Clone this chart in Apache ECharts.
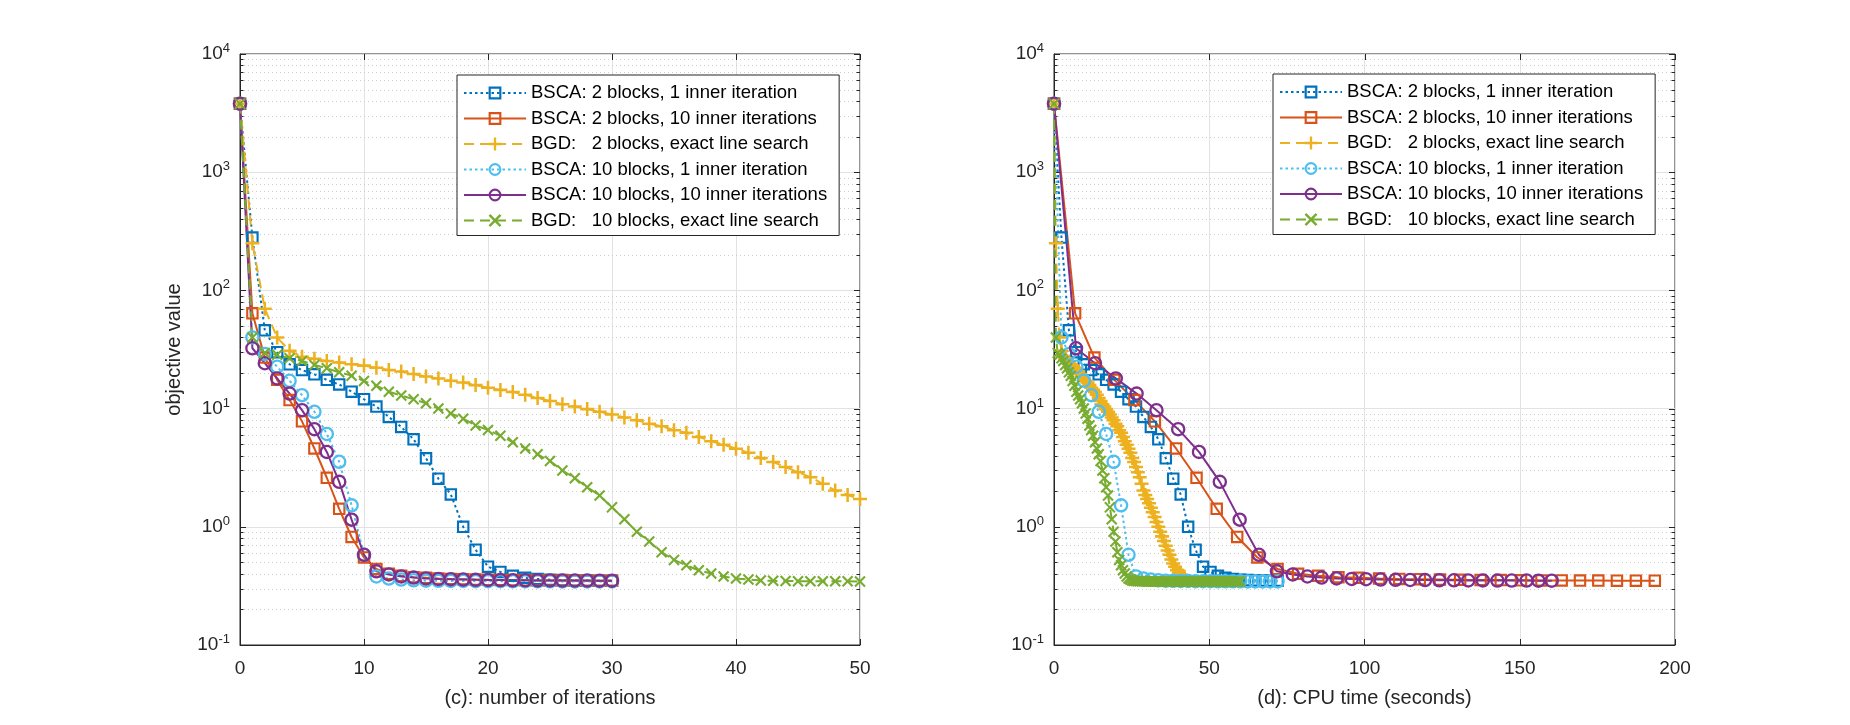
<!DOCTYPE html>
<html>
<head>
<meta charset="utf-8">
<title>BSCA vs BGD: objective value</title>
<script src="https://cdn.jsdelivr.net/npm/echarts@6/dist/echarts.min.js"></script>
<style>
  html, body { margin: 0; padding: 0; background: #fff; }
  #chart { width: 1850px; height: 725px; }
</style>
</head>
<body>
<div id="chart"></div>
<script>
// ---- data ----
const seriesNames = [
  'BSCA: 2 blocks, 1 inner iteration',
  'BSCA: 2 blocks, 10 inner iterations',
  'BGD:   2 blocks, exact line search',
  'BSCA: 10 blocks, 1 inner iteration',
  'BSCA: 10 blocks, 10 inner iterations',
  'BGD:   10 blocks, exact line search'
]

const iterTicks = [0, 10, 20, 30, 40, 50]
const timeTicks = [0, 50, 100, 150, 200]
const decades = [0.1, 1, 10, 100, 1000, 10000]
const minorSteps = [2, 3, 4, 5, 6, 7, 8, 9]

// objective value per iteration (iteration 0 .. end)
const bsca2x1 = [
  3800, 280, 46, 30, 23.7, 21.2, 19.5, 17.5, 16.0, 13.9,
  12.0, 10.4, 8.5, 7.0, 5.5, 3.8, 2.55, 1.88, 1.0, 0.64,
  0.46, 0.415, 0.385, 0.37, 0.362, 0.357, 0.354, 0.352, 0.351, 0.35, 0.35
]
const bsca2x10 = [
  3800, 64, 27, 17.5, 11.8, 7.8, 4.6, 2.6, 1.42, 0.82,
  0.55, 0.44, 0.40, 0.385, 0.375, 0.37, 0.365, 0.362, 0.36, 0.358,
  0.356, 0.355, 0.354, 0.353, 0.352, 0.352, 0.351, 0.351, 0.35, 0.35, 0.35
]
const bgd2 = [
  3800, 250, 70, 40, 30.8, 27.5, 26.4, 25.3, 24.5, 23.7,
  23.1, 22.2, 21.2, 20.6, 19.6, 18.7, 18.0, 17.2, 16.6, 15.8,
  15.0, 14.4, 13.8, 13.1, 12.3, 11.6, 10.9, 10.4, 9.9, 9.4,
  8.9, 8.4, 7.98, 7.46, 7.1, 6.56, 6.26, 5.76, 5.29, 4.95,
  4.58, 4.24, 3.82, 3.53, 3.2, 2.9, 2.63, 2.31, 2.03, 1.86,
  1.72, 1.58, 1.45, 1.33, 1.21, 1.1, 1.0, 0.91, 0.83, 0.76,
  0.69, 0.63, 0.58, 0.53, 0.49, 0.46, 0.43, 0.41, 0.395, 0.385,
  0.38
]
const bsca10x1 = [
  3800, 40, 29, 22.6, 17.2, 13.0, 9.4, 6.1, 3.55, 1.52,
  0.58, 0.38, 0.365, 0.358, 0.353, 0.35, 0.349, 0.348, 0.348, 0.347,
  0.347, 0.347, 0.346, 0.346, 0.346, 0.346, 0.345, 0.345, 0.345, 0.345, 0.345
]
const bsca10x10 = [
  3800, 32.4, 24.2, 18.0, 13.4, 9.7, 6.7, 4.3, 2.4, 1.15,
  0.58, 0.42, 0.395, 0.38, 0.372, 0.366, 0.362, 0.36, 0.358, 0.356,
  0.355, 0.354, 0.353, 0.353, 0.352, 0.352, 0.351, 0.351, 0.351, 0.35, 0.35
]
const bgd10 = [
  3800, 40, 29.5, 28.5, 26.7, 25.3, 23.4, 21.9, 20.3, 19.0,
  17.1, 15.6, 13.9, 12.9, 12.0, 11.1, 10.0, 9.1, 8.2, 7.2,
  6.6, 5.9, 5.2, 4.6, 4.1, 3.6, 3.0, 2.58, 2.16, 1.84,
  1.46, 1.16, 0.91, 0.75, 0.61, 0.525, 0.472, 0.428, 0.402, 0.379,
  0.366, 0.359, 0.352, 0.349, 0.348, 0.347, 0.347, 0.346, 0.346, 0.346,
  0.345, 0.345, 0.345, 0.345, 0.345, 0.345, 0.345, 0.345, 0.345, 0.345,
  0.345, 0.345, 0.345, 0.345, 0.345, 0.345, 0.345, 0.345, 0.345, 0.345,
  0.345, 0.345, 0.345, 0.345, 0.345, 0.345, 0.345, 0.345, 0.345, 0.345,
  0.345, 0.345, 0.345, 0.345, 0.345, 0.345, 0.345, 0.345, 0.345, 0.345,
  0.345, 0.345, 0.345, 0.345, 0.345, 0.345, 0.345, 0.345, 0.345, 0.345,
  0.345
]

// cumulative CPU time (seconds) at each iteration
const cpuOneInner = [
  0, 2.4, 4.8, 7.2, 9.6, 12.0, 14.4, 16.8, 19.2, 21.6,
  24.0, 26.4, 28.8, 31.2, 33.6, 36.0, 38.4, 40.8, 43.2, 45.6,
  48.0, 50.4, 52.8, 55.2, 57.6, 60.0, 62.4, 64.8, 67.2, 69.6, 72.0
]
const cpuBsca2x10 = [
  0, 6.8, 13.0, 19.4, 25.9, 32.5, 39.3, 45.9, 52.4, 59.0,
  65.5, 72.0, 78.6, 85.1, 91.6, 98.2, 104.7, 111.2, 117.8, 124.3,
  130.8, 137.4, 143.9, 150.4, 157.0, 163.5, 169.4, 175.3, 181.3, 187.4, 193.5
]
const cpuBsca10x10 = [
  0, 7.1, 13.2, 19.9, 26.6, 33.0, 40.0, 46.7, 53.4, 59.8,
  66.0, 71.8, 76.9, 81.6, 86.2, 91.0, 95.9, 100.5, 105.2, 110.0,
  114.7, 119.5, 124.1, 128.8, 133.4, 138.1, 142.8, 147.4, 152.2, 156.0, 160.3
]
const cpuBgd = [
  0, 0.6, 1.2, 1.8, 2.4, 3.0, 3.6, 4.2, 4.8, 5.4,
  6.0, 6.6, 7.2, 7.8, 8.4, 9.0, 9.6, 10.2, 10.8, 11.4,
  12.0, 12.6, 13.2, 13.8, 14.4, 15.0, 15.6, 16.2, 16.8, 17.4,
  18.0, 18.6, 19.2, 19.8, 20.4, 21.0, 21.6, 22.2, 22.8, 23.4,
  24.0, 24.6, 25.2, 25.8, 26.4, 27.0, 27.6, 28.2, 28.8, 29.4,
  30.0, 30.6, 31.2, 31.8, 32.4, 33.0, 33.6, 34.2, 34.8, 35.4,
  36.0, 36.6, 37.2, 37.8, 38.4, 39.0, 39.6, 40.2, 40.8, 41.4,
  42.0, 42.6, 43.2, 43.8, 44.4, 45.0, 45.6, 46.2, 46.8, 47.4,
  48.0, 48.6, 49.2, 49.8, 50.4, 51.0, 51.6, 52.2, 52.8, 53.4,
  54.0, 54.6, 55.2, 55.8, 56.4, 57.0, 57.6, 58.2, 58.8, 59.4,
  60.0
]

// ---- styles ----
const FONT = "'Liberation Sans', Arial, sans-serif"
const INK = '#262626'
const SQUARE = 'path://M0,0H10V10H0Z M1.7,1.7V8.3H8.3V1.7Z'
const CIRCLE = 'path://M10,5A5,5,0,1,1,0,5A5,5,0,1,1,10,5Z M8.4,5A3.4,3.4,0,1,0,1.6,5A3.4,3.4,0,1,0,8.4,5Z'
const PLUS = 'path://M4.1,0H5.9V4.1H10V5.9H5.9V10H4.1V5.9H0V4.1H4.1Z'
const CROSS = 'path://M1.3,0L5,3.7L8.7,0L10,1.3L6.3,5L10,8.7L8.7,10L5,6.3L1.3,10L0,8.7L3.7,5L0,1.3Z'
const DOT = [2.5, 3]
const DASH = [10, 6]

const looks = [
  { color: '#0072BD', symbol: SQUARE, size: 12.5, type: DOT },
  { color: '#D95319', symbol: SQUARE, size: 12.5, type: 'solid' },
  { color: '#EDB120', symbol: PLUS, size: 14, type: DASH },
  { color: '#4DBEEE', symbol: CIRCLE, size: 14.5, type: DOT },
  { color: '#7E2F8E', symbol: CIRCLE, size: 14.5, type: 'solid' },
  { color: '#77AC30', symbol: CROSS, size: 11.5, type: DASH }
]

const byIter = vals => vals.slice(0, 51).map((v, i) => [i, v])
const byTime = (times, vals) => vals.slice(0, times.length).map((v, i) => [times[i], v])

const iterData = [bsca2x1, bsca2x10, bgd2, bsca10x1, bsca10x10, bgd10].map(byIter)
const timeData = [
  byTime(cpuOneInner, bsca2x1),
  byTime(cpuBsca2x10, bsca2x10),
  byTime(cpuBgd, bgd2),
  byTime(cpuOneInner, bsca10x1),
  byTime(cpuBsca10x10, bsca10x10),
  byTime(cpuBgd, bgd10)
]

function lineSeries(gridIdx, data, k) {
  const lk = looks[k]
  return {
    type: 'line',
    name: seriesNames[k],
    xAxisIndex: gridIdx,
    yAxisIndex: gridIdx,
    data: data,
    symbol: lk.symbol,
    symbolSize: lk.size,
    showAllSymbol: true,
    lineStyle: { color: lk.color, width: 2, type: lk.type },
    itemStyle: { color: lk.color },
    z: 3
  }
}

// minor log grid lines + ticks on the box sides
function gridMarks(gridIdx, xTicks) {
  const yItems = []
  decades.forEach(d => {
    yItems.push([xTicks[0], d, 0])
    if (d < 10000) minorSteps.forEach(m => yItems.push([xTicks[0], +(m * d).toPrecision(3), 1]))
  })
  const ySeries = {
    type: 'custom',
    name: 'ymarks' + gridIdx,
    xAxisIndex: gridIdx,
    yAxisIndex: gridIdx,
    silent: true,
    clip: false,
    z: 1,
    encode: { x: 0, y: 1 },
    data: yItems,
    renderItem(params, api) {
      const cs = params.coordSys
      const y = Math.round(api.coord([api.value(0), api.value(1)])[1]) + 0.5
      const x0 = cs.x, x1 = cs.x + cs.width
      const minor = api.value(2) === 1
      const ink = { stroke: INK, lineWidth: 1 }
      const children = []
      if (minor) {
        children.push({ type: 'line', shape: { x1: x0, y1: y, x2: x1, y2: y },
          style: { stroke: '#cdcdcd', lineWidth: 1, lineDash: [1, 3] } })
        children.push({ type: 'line', shape: { x1: x0, y1: y, x2: x0 + 3.5, y2: y }, style: ink })
      }
      children.push({ type: 'line', shape: { x1: x1 - (minor ? 3.5 : 6), y1: y, x2: x1, y2: y }, style: ink })
      return { type: 'group', children }
    }
  }
  const xSeries = {
    type: 'custom',
    name: 'xmarks' + gridIdx,
    xAxisIndex: gridIdx,
    yAxisIndex: gridIdx,
    silent: true,
    clip: false,
    z: 1,
    encode: { x: 0, y: 1 },
    data: xTicks.map(t => [t, 1]),
    renderItem(params, api) {
      const cs = params.coordSys
      const x = Math.round(api.coord([api.value(0), api.value(1)])[0]) + 0.5
      return { type: 'line', shape: { x1: x, y1: cs.y, x2: x, y2: cs.y + 6 },
        style: { stroke: INK, lineWidth: 1 } }
    }
  }
  return [ySeries, xSeries]
}

function xAxis(gridIdx, ticks, name) {
  return {
    type: 'value',
    gridIndex: gridIdx,
    min: ticks[0],
    max: ticks[ticks.length - 1],
    interval: ticks[1] - ticks[0],
    name: name,
    nameLocation: 'middle',
    nameGap: 43,
    nameTextStyle: { color: INK, fontSize: 20, fontFamily: FONT },
    axisLine: { onZero: false, lineStyle: { color: INK, width: 1 } },
    axisTick: { inside: true, length: 6, lineStyle: { color: INK } },
    axisLabel: { color: INK, fontSize: 19, fontFamily: FONT, margin: 14 },
    splitLine: { show: true, lineStyle: { color: '#e2e2e2', width: 1 } }
  }
}

function yAxis(gridIdx, name) {
  return {
    type: 'log',
    logBase: 10,
    gridIndex: gridIdx,
    min: decades[0],
    max: decades[decades.length - 1],
    name: name,
    nameLocation: 'middle',
    nameGap: 56,
    nameTextStyle: { color: INK, fontSize: 20, fontFamily: FONT },
    axisLine: { lineStyle: { color: INK, width: 1 } },
    axisTick: { inside: true, length: 6, lineStyle: { color: INK } },
    axisLabel: {
      color: INK, fontSize: 19, fontFamily: FONT, margin: 10,
      formatter: v => '10{e|' + Math.round(Math.log10(v)) + '}',
      rich: { e: { fontSize: 13, fontFamily: FONT, color: INK, padding: [0, 0, 11, 0] } }
    },
    splitLine: { show: true, lineStyle: { color: '#e2e2e2', width: 1 } }
  }
}

function legendAt(left, top) {
  return {
    orient: 'vertical',
    left: left,
    top: top,
    data: seriesNames,
    selectedMode: false,
    backgroundColor: '#fff',
    borderColor: INK,
    borderWidth: 1,
    padding: [8, 12, 5, 6],
    itemGap: 5.5,
    itemWidth: 62,
    itemHeight: 16,
    textStyle: { color: '#000', fontSize: 18.5, fontFamily: FONT, lineHeight: 20 }
  }
}

const chart = echarts.init(document.getElementById('chart'))
chart.setOption({
  animation: false,
  backgroundColor: '#fff',
  textStyle: { fontFamily: FONT },
  grid: [
    { left: 240, top: 54, width: 620, height: 591, show: true, borderColor: INK, borderWidth: 1 },
    { left: 1054, top: 54, width: 621, height: 591, show: true, borderColor: INK, borderWidth: 1 }
  ],
  legend: [legendAt(457, 75), legendAt(1273, 74)],
  xAxis: [
    xAxis(0, iterTicks, '(c): number of iterations'),
    xAxis(1, timeTicks, '(d): CPU time (seconds)')
  ],
  yAxis: [yAxis(0, 'objective value'), yAxis(1, '')],
  series: [
    ...gridMarks(0, iterTicks),
    ...gridMarks(1, timeTicks),
    ...iterData.map((d, k) => lineSeries(0, d, k)),
    ...timeData.map((d, k) => lineSeries(1, d, k))
  ]
})
</script>
</body>
</html>
